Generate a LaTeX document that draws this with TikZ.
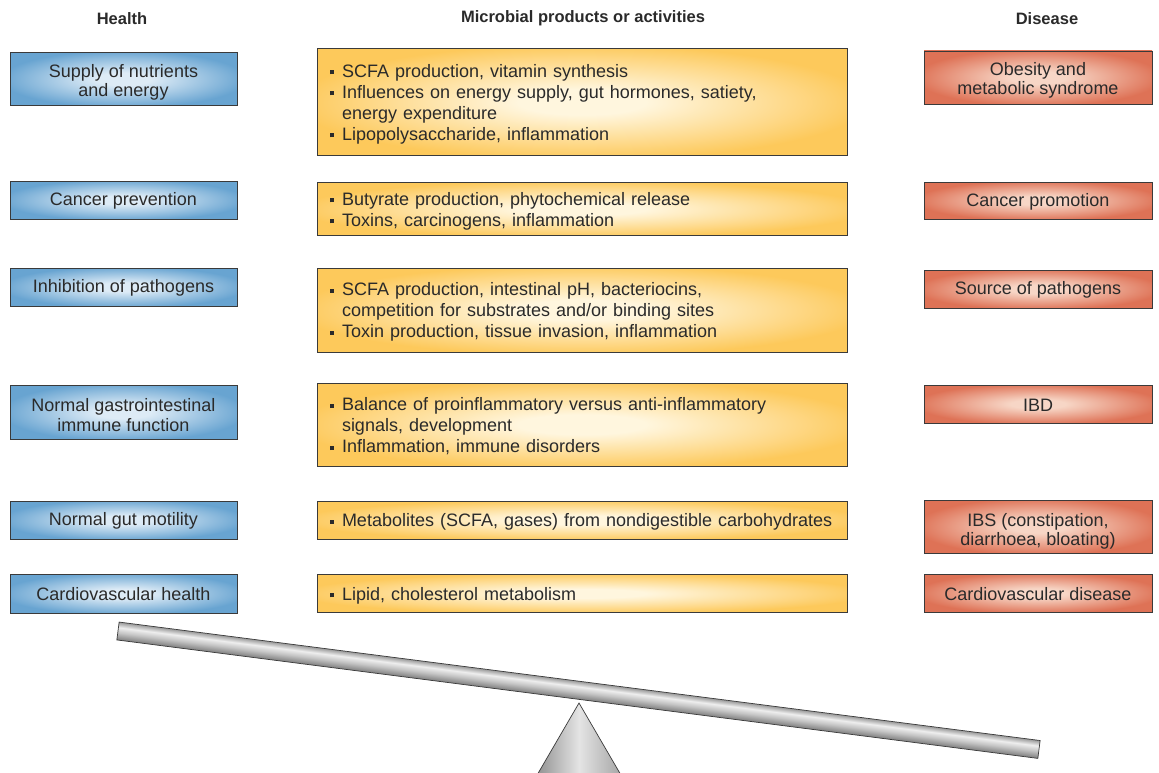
\documentclass[tikz,border=0pt]{standalone}
\usepackage{fontspec}
\setmainfont{Liberation Sans}
\definecolor{txt}{HTML}{2A2A2A}
\definecolor{bluein}{HTML}{DDEBF6}
\definecolor{blueout}{HTML}{68A4D1}
\definecolor{orin}{HTML}{FFF6DE}
\definecolor{orout}{HTML}{FDC95B}
\definecolor{redin}{HTML}{F7D6C6}
\definecolor{redout}{HTML}{DE7256}
\definecolor{edge}{HTML}{3A3A3A}
\definecolor{barA}{HTML}{7E7E7E}
\definecolor{barB}{HTML}{C4C4C4}
\definecolor{barC}{HTML}{EEEEEE}
\definecolor{barD}{HTML}{9A9A9A}
\definecolor{coneA}{HTML}{8A8A8A}
\definecolor{coneB}{HTML}{E4E4E4}
\definecolor{coneC}{HTML}{A0A0A0}
\pgfdeclareradialshading{blueglow}{\pgfpoint{0bp}{0bp}}{color(0bp)=(bluein); color(6bp)=(bluein); color(27bp)=(blueout); color(50bp)=(blueout)}
\pgfdeclareradialshading{orglow}{\pgfpoint{0bp}{0bp}}{color(0bp)=(orin); color(6bp)=(orin); color(27bp)=(orout); color(50bp)=(orout)}
\pgfdeclareradialshading{redglow}{\pgfpoint{0bp}{0bp}}{color(0bp)=(redin); color(6bp)=(redin); color(27bp)=(redout); color(50bp)=(redout)}
\pgfdeclareverticalshading{barshade}{100bp}{color(0bp)=(barA); color(25bp)=(barA); color(45bp)=(barB); color(60bp)=(barC); color(75bp)=(barD); color(100bp)=(barD)}
\pgfdeclarehorizontalshading{coneshade}{100bp}{color(0bp)=(coneA); color(25bp)=(coneA); color(50bp)=(coneB); color(75bp)=(coneC); color(100bp)=(coneC)}
\newcommand\blt{\makebox[12pt][l]{\rule[2.7pt]{4.2pt}{4.2pt}}}
\newcommand\cont{\hspace*{12pt}}
\tikzset{
  basebox/.style={draw=edge, line width=0.9pt, inner sep=0pt},
  hbox/.style={basebox, shade, shading=blueglow, minimum width=227pt},
  dbox/.style={basebox, shade, shading=redglow, minimum width=228pt},
  mbox/.style={basebox, shade, shading=orglow, minimum width=530pt},
  sidetext/.style={text=txt, inner sep=0pt, align=center,
    font=\fontsize{18}{19.2}\selectfont, yshift=-3pt},
  sidetexti/.style={sidetext, yshift=2pt},
  midtext/.style={text=txt, inner sep=0pt, align=left, text width=504pt,
    font=\fontsize{18}{21}\selectfont, yshift=-2pt},
  head/.style={font=\bfseries\fontsize{16.5}{19}\selectfont, text=txt},
  beam/.style={draw=edge, line width=0.7pt, shade, shading=barshade},
  fulcrum/.style={draw=edge, line width=0.7pt, shade, shading=coneshade}
}
\begin{document}
\begin{tikzpicture}[x=1pt,y=-1pt]
\useasboundingbox[fill=white] (0,0) rectangle (1159,773);
% headers
\node[head] (hh) at (122,18.5) {Health};
\node[head] (mh) at (583,18.5) {Microbial products or activities};
\node[head] (dh) at (1047,18.5) {Disease};
% health column
\node[hbox, minimum height=53pt] (h1) at (123.5,79) {};
\node[hbox, minimum height=38pt] (h2) at (123.5,200) {};
\node[hbox, minimum height=38pt] (h3) at (123.5,287) {};
\node[hbox, minimum height=54pt] (h4) at (123.5,412) {};
\node[hbox, minimum height=38pt] (h5) at (123.5,520) {};
\node[hbox, minimum height=39pt] (h6) at (123.5,593.5) {};
\node[sidetext] (h1t) at (h1.center) {Supply of nutrients\\and energy};
\node[sidetexti] (h2t) at (h2.center) {Cancer prevention};
\node[sidetexti] (h3t) at (h3.center) {Inhibition of pathogens};
\node[sidetext] (h4t) at (h4.center) {Normal gastrointestinal\\immune function};
\node[sidetexti] (h5t) at (h5.center) {Normal gut motility};
\node[sidetexti] (h6t) at (h6.center) {Cardiovascular health};
% microbial column
\node[mbox, minimum height=106.5pt] (m1) at (582,102) {};
\node[mbox, minimum height=53pt] (m2) at (582,209) {};
\node[mbox, minimum height=84pt] (m3) at (582,310) {};
\node[mbox, minimum height=83pt] (m4) at (582,424.5) {};
\node[mbox, minimum height=38pt] (m5) at (582,520) {};
\node[mbox, minimum height=38pt] (m6) at (582,593.5) {};
\node[midtext] (m1t) at (m1.center) {\blt SCFA production, vitamin synthesis\\\blt Influences on energy supply, gut hormones, satiety,\\\cont energy expenditure\\\blt Lipopolysaccharide, inflammation};
\node[midtext] (m2t) at (m2.center) {\blt Butyrate production, phytochemical release\\\blt Toxins, carcinogens, inflammation};
\node[midtext] (m3t) at (m3.center) {\blt SCFA production, intestinal pH, bacteriocins,\\\cont competition for substrates and/or binding sites\\\blt Toxin production, tissue invasion, inflammation};
\node[midtext] (m4t) at (m4.center) {\blt Balance of proinflammatory versus anti-inflammatory\\\cont signals, development\\\blt Inflammation, immune disorders};
\node[midtext] (m5t) at (m5.center) {\blt Metabolites (SCFA, gases) from nondigestible carbohydrates};
\node[midtext] (m6t) at (m6.center) {\blt Lipid, cholesterol metabolism};
% disease column
\node[dbox, minimum height=53pt] (d1) at (1038,77.5) {};
\node[dbox, minimum height=37pt] (d2) at (1038,200.5) {};
\node[dbox, minimum height=38pt] (d3) at (1038,289) {};
\node[dbox, minimum height=38pt] (d4) at (1038,404) {};
\node[dbox, minimum height=53pt] (d5) at (1038,526.5) {};
\node[dbox, minimum height=38pt] (d6) at (1038,593) {};
\node[sidetext] (d1t) at (d1.center) {Obesity and\\metabolic syndrome};
\node[sidetexti] (d2t) at (d2.center) {Cancer promotion};
\node[sidetexti] (d3t) at (d3.center) {Source of pathogens};
\node[sidetexti] (d4t) at (d4.center) {IBD};
\node[sidetext, yshift=-1.5pt] (d5t) at (d5.center) {IBS (constipation,\\diarrhoea, bloating)};
\node[sidetexti] (d6t) at (d6.center) {Cardiovascular disease};
% seesaw
\path[fulcrum] (579,703) -- (533,782) -- (625,782) -- cycle;
\begin{scope}[transform canvas={shift={(118,631)}, rotate=-7.33}]
  \path[beam] (0,-9) rectangle (928.6,9);
\end{scope}
\end{tikzpicture}
\end{document}
